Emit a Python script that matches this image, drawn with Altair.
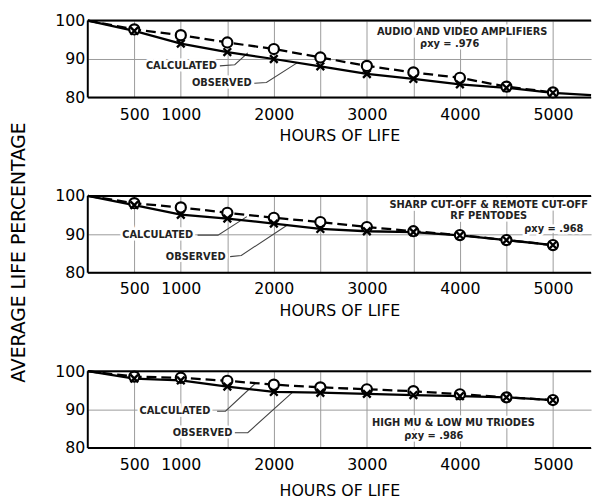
import altair as alt
import pandas as pd

# ---------------- data ----------------
hours = [0, 500, 1000, 1500, 2000, 2500, 3000, 3500, 4000, 4500, 5000]

audio_calculated = [100, 97.7, 96.2, 94.3, 92.6, 90.4, 88.2, 86.5, 85.1, 82.8, 81.3]
audio_observed = [100, 97.3, 94.0, 91.8, 90.0, 88.1, 86.1, 84.8, 83.4, 82.5, 81.2]
audio_tail_hours = [5410]
audio_tail_observed = [80.6]

pentode_calculated = [100, 98.1, 97.0, 95.6, 94.3, 93.2, 91.9, 90.8, 89.8, 88.5, 87.2]
pentode_observed = [100, 97.6, 95.1, 94.1, 92.8, 91.4, 90.8, 90.6, 89.7, 88.5, 87.2]

triode_calculated = [100, 98.6, 98.3, 97.5, 96.5, 95.8, 95.3, 94.8, 94.0, 93.2, 92.5]
triode_observed = [100, 98.1, 97.6, 96.0, 94.6, 94.4, 94.1, 93.8, 93.5, 93.2, 92.5]

x_tick_values = [500, 1000, 1500, 2000, 2500, 3000, 3500, 4000, 4500, 5000]
x_label_values = [500, 1000, 2000, 3000, 4000, 5000]
y_tick_values = [80, 90, 100]
x_domain = [0, 5410]

x_title = "HOURS OF LIFE"
y_title = "AVERAGE LIFE PERCENTAGE"

audio_notes = [
    ("AUDIO AND VIDEO AMPLIFIERS", 4025, 97.0),
    ("\u03c1xy = .976", 3890, 94.0),
    ("CALCULATED", 1006, 88.2),
    ("OBSERVED", 1440, 83.7),
]
audio_leaders = [
    [(1420, 88.2), (1580, 88.5), (1720, 91.6)],
    [(1790, 83.7), (1920, 83.9), (2250, 89.0)],
]

pentode_notes = [
    ("SHARP CUT-OFF & REMOTE CUT-OFF", 4310, 97.6),
    ("RF PENTODES", 4310, 94.7),
    ("\u03c1xy = .968", 5010, 91.5),
    ("CALCULATED", 752, 89.8),
    ("OBSERVED", 1160, 84.2),
]
pentode_leaders = [
    [(1180, 89.8), (1400, 89.8), (1710, 94.6)],
    [(1530, 84.2), (1650, 84.5), (2150, 92.5)],
]

triode_notes = [
    ("HIGH MU & LOW MU TRIODES", 3930, 86.4),
    ("\u03c1xy = .986", 3720, 83.0),
    ("CALCULATED", 937, 89.6),
    ("OBSERVED", 1234, 84.0),
]
triode_leaders = [
    [(1390, 89.6), (1480, 89.6), (1800, 96.8)],
    [(1580, 84.0), (1720, 84.0), (2200, 94.5)],
]

FONT = "DejaVu Sans"
X_SHAPE = "M-1,-1L1,1M-1,1L1,-1"
label_expr = "indexof([" + ",".join(str(v) for v in x_label_values) + "], datum.value) >= 0 ? datum.label : ''"


def panel(calc, obs, notes, leaders, with_y_title, label_pad, title_pad,
          tail_h=None, tail_v=None):
    rows = []
    for h, c, o in zip(hours, calc, obs):
        rows.append({"hours": h, "value": c, "series": "Calculated"})
        rows.append({"hours": h, "value": o, "series": "Observed"})
    if tail_h:
        for h, v in zip(tail_h, tail_v):
            rows.append({"hours": h, "value": v, "series": "Observed"})
    df = pd.DataFrame(rows)

    xaxis = alt.Axis(
        values=x_tick_values, labelExpr=label_expr, format="d", title=x_title,
        grid=True, gridColor="#9a9a9a", gridWidth=1, ticks=False, domain=False,
        labelFont=FONT, labelFontSize=16, labelColor="black", labelPadding=label_pad,
        titleFont=FONT, titleFontSize=16, titleFontWeight="normal", titleColor="black",
        titlePadding=title_pad, labelFlush=False,
    )
    yargs = dict(
        values=y_tick_values, grid=True, gridColor="#9a9a9a", gridWidth=1,
        ticks=False, domain=False, labelFont=FONT, labelFontSize=16,
        labelColor="black", labelPadding=3,
    )
    if with_y_title:
        yargs.update(title=y_title, titleFont=FONT, titleFontSize=19,
                     titleFontWeight="normal", titleColor="black",
                     titleX=-70, titleY=57, titleBaseline="middle", titleAngle=270)
    else:
        yargs.update(title=None)
    yaxis = alt.Axis(**yargs)

    xs = alt.Scale(domain=x_domain, nice=False, zero=False)
    ys = alt.Scale(domain=[min(y_tick_values), max(y_tick_values)], nice=False, zero=False)
    X = alt.X("hours:Q", scale=xs, axis=xaxis)
    Y = alt.Y("value:Q", scale=ys, axis=yaxis)

    base = alt.Chart(df).encode(x=X, y=Y)
    in_range = f"datum.hours >= {x_tick_values[0]} && datum.hours <= {x_tick_values[-1]}"

    calc_line = base.transform_filter("datum.series == 'Calculated'").mark_line(
        color="black", strokeWidth=2.3, strokeDash=[10, 5])
    obs_line = base.transform_filter("datum.series == 'Observed'").mark_line(
        color="black", strokeWidth=2.3)
    calc_pts = base.transform_filter(
        "datum.series == 'Calculated' && " + in_range).mark_point(
        shape="circle", filled=True, fill="white", stroke="black",
        strokeWidth=2.2, size=105, opacity=1)
    obs_pts = base.transform_filter(
        "datum.series == 'Observed' && " + in_range).mark_point(
        shape=X_SHAPE, filled=False, stroke="black", strokeWidth=2.4,
        size=60, opacity=1)

    hb = pd.DataFrame({"value": [min(y_tick_values), max(y_tick_values)]})
    h_border = alt.Chart(hb).mark_rule(color="black", strokeWidth=2).encode(y=Y)
    vb = pd.DataFrame({"hours": [x_domain[0]]})
    v_border = alt.Chart(vb).mark_rule(color="black", strokeWidth=2).encode(x=X)

    lrows = []
    for i, pts in enumerate(leaders):
        for j, (h, v) in enumerate(pts):
            lrows.append({"hours": h, "value": v, "leader": i, "seq": j})
    ldf = pd.DataFrame(lrows)
    leader_lines = alt.Chart(ldf).mark_line(color="#444", strokeWidth=1.1).encode(
        x=X, y=Y, detail="leader:N", order="seq:Q")

    ndf = pd.DataFrame([{"text": t, "hours": h, "value": v} for t, h, v in notes])
    halo = alt.Chart(ndf).mark_text(
        font=FONT, fontSize=10, fontWeight="bold", stroke="white",
        strokeWidth=5, fill="white").encode(x=X, y=Y, text="text:N")
    txt = alt.Chart(ndf).mark_text(
        font=FONT, fontSize=10, fontWeight="bold", color="#222").encode(
        x=X, y=Y, text="text:N")

    return alt.layer(
        leader_lines, halo, txt, h_border, v_border,
        calc_line, obs_line, calc_pts, obs_pts,
    ).properties(width=511, height=78)


p1 = panel(audio_calculated, audio_observed, audio_notes, audio_leaders, False, 9, 6,
           audio_tail_hours, audio_tail_observed)
p2 = panel(pentode_calculated, pentode_observed, pentode_notes, pentode_leaders, True, 8, 6)
p3 = panel(triode_calculated, triode_observed, triode_notes, triode_leaders, False, 9, 10)

chart = alt.vconcat(p1, p2, p3, spacing=100, bounds="flush").properties(
    padding={"left": 1, "top": 1, "right": 0, "bottom": 0},
    background="white",
).configure_view(strokeWidth=0)

chart.save("out.html", embed_options={"renderer": "svg", "actions": False})
